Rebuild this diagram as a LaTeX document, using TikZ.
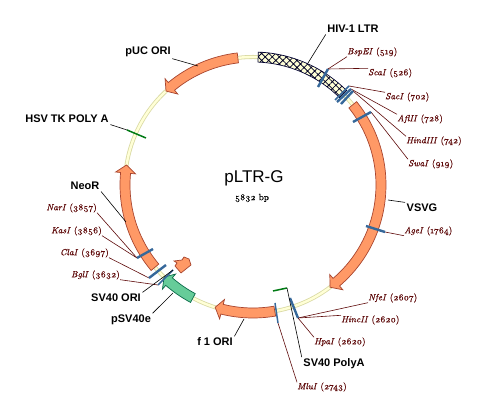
\documentclass[tikz,border=0pt]{standalone}
\usepackage{fontspec}
\setmainfont[Numbers=OldStyle]{Latin Modern Roman}
\newfontfamily\tagfont{Liberation Sans}
\newfontfamily\enzfont[Numbers=OldStyle, FakeBold=0.7]{Latin Modern Roman}
\usetikzlibrary{patterns.meta}

\definecolor{geneorange}{HTML}{FF9966}
\definecolor{geneedge}{HTML}{A8452F}
\definecolor{promoter}{HTML}{66CC99}
\definecolor{promoteredge}{HTML}{0B6B4A}
\definecolor{sitered}{HTML}{5E0A0A}
\definecolor{siteblue}{HTML}{36689A}
\definecolor{polygreen}{HTML}{007A14}
\definecolor{ringfill}{HTML}{FFFFD6}
\definecolor{ringedge}{HTML}{D9D9A3}

% one feature on the ring: style, tail angle, angle of head base, tip angle
\newcommand{\genearrow}[4]{%
    \filldraw[#1] (#2:133) arc[start angle=#2, end angle=#3, radius=133]
        -- (#3:138) -- (#4:128) -- (#3:118) -- (#3:123)
        arc[start angle=#3, end angle=#2, radius=123] -- cycle;}

\begin{document}
\begin{tikzpicture}[x=1pt, y=1pt,
    gene/.style={fill=geneorange, draw=geneedge, line width=0.7pt},
    promoterarrow/.style={fill=promoter, draw=promoteredge, line width=0.7pt},
    cutsite/.style={draw=siteblue, line width=2.4pt},
    thinsite/.style={draw=siteblue, line width=1.5pt},
    polysite/.style={draw=polygreen, line width=1.5pt},
    leader/.style={draw=sitered, line width=0.6pt},
    tagline/.style={draw=black, line width=0.6pt},
    enzyme/.style={text=sitered, font=\enzfont\fontsize{9}{10}\selectfont, inner sep=0pt},
    tag/.style={font=\tagfont\bfseries\fontsize{11}{12}\selectfont, inner sep=1.5pt}]

    \useasboundingbox (0,0) rectangle (485,414);

    \begin{scope}[shift={(253,229)}]
        % Backbone
        \draw[ringedge, line width=4pt] (0,0) circle[radius=128];
        \draw[ringfill, line width=2.4pt] (0,0) circle[radius=128];

        % LTR with its cross hatching
        \filldraw[fill=ringfill, draw=black!80!blue, line width=0.7pt]
            (87.7:133) arc[start angle=87.7, end angle=45.3, radius=133]
            -- (45.3:123) arc[start angle=45.3, end angle=87.7, radius=123] -- cycle;
        \fill[pattern={Hatch[angle=45, distance=5pt, line width=0.8pt]}, pattern color=black!85!blue]
            (87.7:133) arc[start angle=87.7, end angle=45.3, radius=133]
            -- (45.3:123) arc[start angle=45.3, end angle=87.7, radius=123] -- cycle;

        % Genes
        \genearrow{gene}{38.8}{-49.4}{-53}
        \genearrow{gene}{96.8}{129.6}{132.8}
        \genearrow{gene}{220}{174.6}{171}
        \genearrow{gene}{279.8}{256}{252.8}
        \genearrow{promoterarrow}{242}{229}{226}
    \end{scope}

    % Short stub next to the promoter
    \filldraw[gene] (174,153) -- (182,154) -- (184,157) -- (189,155) -- (191,149)
        -- (181,141) -- (175,148) -- (177,151) -- cycle;

    % Restriction sites
    \coordinate (bspIn) at (318,327);
    \coordinate (bspOut) at (328,345);
    \coordinate (sacIn) at (335,314);
    \coordinate (sacOut) at (349,328);
    \coordinate (aflIn) at (337,312);
    \coordinate (aflOut) at (351,325);
    \coordinate (hindIn) at (341,310);
    \coordinate (hindOut) at (353,323);
    \coordinate (swaIn) at (353,292);
    \coordinate (swaOut) at (371,302);
    \coordinate (ageIn) at (366,188);
    \coordinate (ageOut) at (385,182);
    \coordinate (hpaOut) at (298,96);
    \coordinate (hpaIn) at (290,116);
    \coordinate (mluOut) at (278,91);
    \coordinate (mluIn) at (275,111);
    \coordinate (narOut) at (137,156);
    \coordinate (narIn) at (153,165);
    \coordinate (claOut) at (149,136);
    \coordinate (claIn) at (166,149);
    \coordinate (bglOut) at (158,129);
    \coordinate (bglIn) at (173,144);

    % Poly A marks
    \coordinate (hsvIn) at (146,276);
    \coordinate (hsvOut) at (127,284);
    \coordinate (polyIn) at (273,123);
    \coordinate (polyOut) at (287,126);
    \draw[polysite] (hsvIn) -- (hsvOut);
    \draw[polysite] (polyIn) -- (polyOut);

    % Middle of the ring
    \node[font=\tagfont\fontsize{17}{18}\selectfont] (plasmidName) at (254,236) {pLTR-G};
    \node[font=\enzfont\fontsize{9}{10}\selectfont] (plasmidSize) at (252,216) {5832 bp};

    % Site labels on the right
    \node[enzyme, anchor=west] (lblBsp) at (347,362) {\textit{BspEI} (519)};
    \node[enzyme, anchor=west] (lblSca) at (368,341) {\textit{ScaI} (526)};
    \node[enzyme, anchor=west] (lblSac) at (385,317) {\textit{SacI} (702)};
    \node[enzyme, anchor=west] (lblAfl) at (397,295) {\textit{AflII} (728)};
    \node[enzyme, anchor=west] (lblHind) at (406,273) {\textit{HindIII} (742)};
    \node[enzyme, anchor=west] (lblSwa) at (408,250) {\textit{SwaI} (919)};
    \node[enzyme, anchor=west] (lblAge) at (404,183) {\textit{AgeI} (1764)};
    \node[enzyme, anchor=west] (lblMfe) at (368,116) {\textit{NfeI} (2607)};
    \node[enzyme, anchor=west] (lblHinc) at (341,94) {\textit{HincII} (2620)};
    \node[enzyme, anchor=west] (lblHpa) at (314,72) {\textit{HpaI} (2620)};
    \node[enzyme, anchor=west] (lblMlu) at (297,27) {\textit{MluI} (2743)};

    % Site labels on the left
    \node[enzyme, anchor=east] (lblNar) at (97,206) {\textit{NarI} (3857)};
    \node[enzyme, anchor=east] (lblKas) at (102,183) {\textit{KasI} (3856)};
    \node[enzyme, anchor=east] (lblCla) at (109,161) {\textit{ClaI} (3697)};
    \node[enzyme, anchor=east] (lblBgl) at (120,139) {\textit{BglI} (3632)};

    \draw[leader] (lblBsp.south west) -- (bspOut);
    \draw[leader] (lblSca.north west) -- (bspOut);
    \draw[leader] (lblSac.north west) -- (sacOut);
    \draw[leader] (lblAfl.north west) -- (aflOut);
    \draw[leader] (lblHind.north west) -- (hindOut);
    \draw[leader] (lblSwa.north west) -- (swaOut);
    \draw[leader] (lblAge.south west) -- (ageOut);
    \draw[leader] (lblMfe.south west) -- (hpaOut);
    \draw[leader] (lblHinc.north west) -- (hpaOut);
    \draw[leader] (lblHpa.north west) -- (hpaOut);
    \draw[leader] (lblMlu.north west) -- (mluOut);
    \draw[leader] (lblNar.south east) -- (narOut);
    \draw[leader] (lblKas.south east) -- (narOut);
    \draw[leader] (lblCla.south east) -- (claOut);
    \draw[leader] (lblBgl.south east) -- (bglOut);

    % Ticks go over their leaders
    \draw[cutsite] (bspIn) -- (bspOut);
    \draw[thinsite] (sacIn) -- (sacOut);
    \draw[cutsite] (aflIn) -- (aflOut);
    \draw[cutsite] (hindIn) -- (hindOut);
    \draw[cutsite] (swaIn) -- (swaOut);
    \draw[cutsite] (ageIn) -- (ageOut);
    \draw[cutsite] (hpaIn) -- (hpaOut);
    \draw[thinsite] (mluIn) -- (mluOut);
    \draw[cutsite] (narIn) -- (narOut);
    \draw[cutsite] (claIn) -- (claOut);
    \draw[thinsite] (bglIn) -- (bglOut);

    % Feature labels
    \coordinate (ltrEdge) at (308,351);
    \coordinate (pucEdge) at (198,348);
    \coordinate (neoEdge) at (126,192);
    \coordinate (vsvgEdge) at (388,214);
    \coordinate (oriEdge) at (244,95);
    \coordinate (seEdge) at (173,121);

    \node[tag] (tagLtr) at (353,385) {HIV-1 LTR};
    \node[tag] (tagPuc) at (148,362) {pUC ORI};
    \node[tag] (tagHsv) at (67,295) {HSV TK POLY A};
    \node[tag] (tagNeo) at (85,228) {NeoR};
    \node[tag] (tagVsvg) at (422,206) {VSVG};
    \node[tag] (tagSvori) at (116,116) {SV40 ORI};
    \node[tag] (tagSe) at (131,94) {pSV40e};
    \node[tag] (tagF) at (215,72) {f 1 ORI};
    \node[tag] (tagPoly) at (334,50) {SV40 PolyA};

    \draw[tagline] (tagLtr.south west) -- (ltrEdge);
    \draw[tagline] (tagPuc.south east) -- (pucEdge);
    \draw[tagline] (tagHsv.south east) -- (hsvOut);
    \draw[tagline] (tagNeo.south east) -- (neoEdge);
    \draw[tagline] (tagVsvg.north west) -- (vsvgEdge);
    \draw[tagline] (tagSvori.north east) -- (bglIn);
    \draw[tagline] (tagSe.north east) -- (seEdge);
    \draw[tagline] (tagF.north east) -- (oriEdge);
    \draw[tagline] (tagPoly.north west) -- (polyOut);

\end{tikzpicture}
\end{document}
